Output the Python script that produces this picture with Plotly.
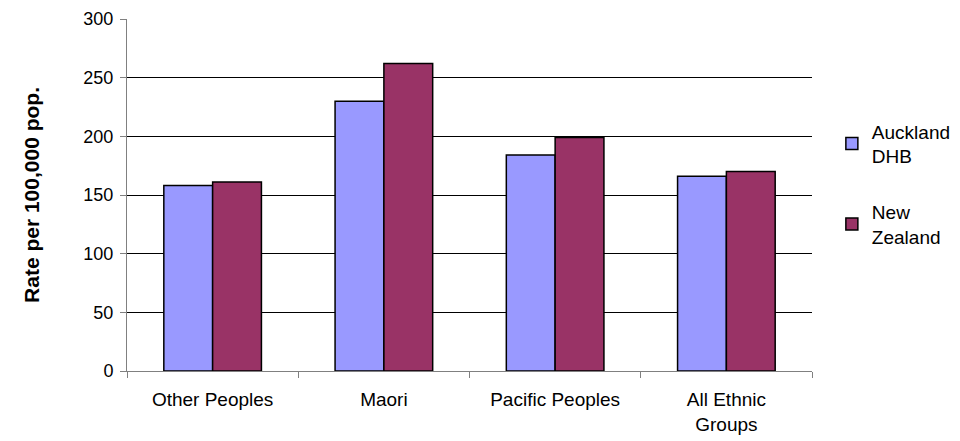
import plotly.graph_objects as go

categories = ["Other Peoples", "Maori", "Pacific Peoples", "All Ethnic<br>Groups"]
auckland = [158, 230, 184, 166]
new_zealand = [161, 262, 199, 170]
series_names = ["Auckland<br>DHB", "New<br>Zealand"]
y_ticks = [0, 50, 100, 150, 200, 250, 300]

font_family = "Liberation Sans, Arial, sans-serif"

fig = go.Figure()
fig.add_trace(go.Bar(x=categories, y=auckland, name=series_names[0], legendgroup="a",
                     marker=dict(color="#9999FF", line=dict(color="black", width=1.5))))
fig.add_trace(go.Bar(x=categories, y=new_zealand, name=series_names[1], legendgroup="b",
                     marker=dict(color="#993366", line=dict(color="black", width=1.5))))

fig.update_layout(
    width=960, height=441,
    margin=dict(l=127, r=148, t=19, b=70, autoexpand=False),
    paper_bgcolor="white", plot_bgcolor="white",
    barmode="group", bargap=0.43, bargroupgap=0,
    font=dict(family=font_family, size=19, color="black"),
    showlegend=True,
    legend=dict(x=1.029, xanchor="left", y=0.735, yanchor="top",
                font=dict(size=19), tracegroupgap=28, itemwidth=30,
                bgcolor="rgba(0,0,0,0)"),
    xaxis=dict(
        automargin=False,
        showline=True, linecolor="#808080", linewidth=1,
        ticks="outside", tickson="boundaries", ticklen=6, tickcolor="#808080",
        showgrid=False, tickfont=dict(size=19), ticklabelstandoff=11,
    ),
    yaxis=dict(
        automargin=False,
        range=[0, 300], tickvals=y_ticks,
        showline=True, linecolor="#808080", linewidth=1,
        ticks="outside", ticklen=6, tickcolor="#808080",
        showgrid=True, gridcolor="black", gridwidth=1,
        zeroline=False, tickfont=dict(size=18), ticklabelstandoff=3,
        title=dict(text="<b>Rate per 100,000 pop.</b>", font=dict(size=21), standoff=38),
    ),
)

fig.write_html("out.html")
